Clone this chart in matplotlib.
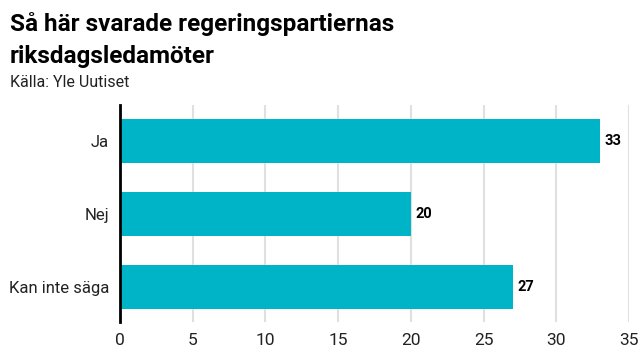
import matplotlib
matplotlib.use("Agg")
import matplotlib.pyplot as plt

plt.rcParams['font.family'] = ['Roboto', 'DejaVu Sans']

categories = ["Ja", "Nej", "Kan inte säga"]
values = [33, 20, 27]
xticks = [0, 5, 10, 15, 20, 25, 30, 35]

fig = plt.figure(figsize=(6.4, 3.6), dpi=100)
ax = fig.add_axes([120/640, 1-322/360, (629-120)/640, (322-105)/360])

ypos = list(range(len(categories)))
ax.barh(ypos, values, height=0.6, color="#00b4c8", zorder=2)
ax.set_ylim(len(categories) - 1 + 0.48, -0.49)
ax.set_xlim(0, 35)
ax.set_yticks(ypos)
ax.set_yticklabels(categories, fontsize=12, color="#222222")
ax.set_xticks(xticks)
ax.set_xticklabels([str(t) for t in xticks], fontsize=12.5, color="#222222")
ax.tick_params(axis='both', length=0, pad=8)
ax.tick_params(axis='x', pad=8)
for s in ["top", "right", "bottom"]:
    ax.spines[s].set_visible(False)
ax.spines["left"].set_linewidth(2)
ax.spines["left"].set_color("#000000")
ax.spines["left"].set_zorder(3)
ax.grid(axis='x', color="#e0e0e0", linewidth=1.5, zorder=0)
ax.set_axisbelow(True)

for y, v in zip(ypos, values):
    ax.text(v + 0.3, y, str(v), va='center', ha='left', fontsize=10.5,
            fontweight='bold', color="#000000")

fig.text(10/640, 1-31/360, "Så här svarade regeringspartiernas",
         fontsize=17.5, fontweight='bold', va='baseline', ha='left', color="#000000")
fig.text(10/640, 1-63/360, "riksdagsledamöter",
         fontsize=17.5, fontweight='bold', va='baseline', ha='left', color="#000000")
fig.text(10/640, 1-87/360, "Källa: Yle Uutiset", fontsize=11.5, va='baseline',
         ha='left', color="#222222")

fig.savefig("out.png", dpi=100)
